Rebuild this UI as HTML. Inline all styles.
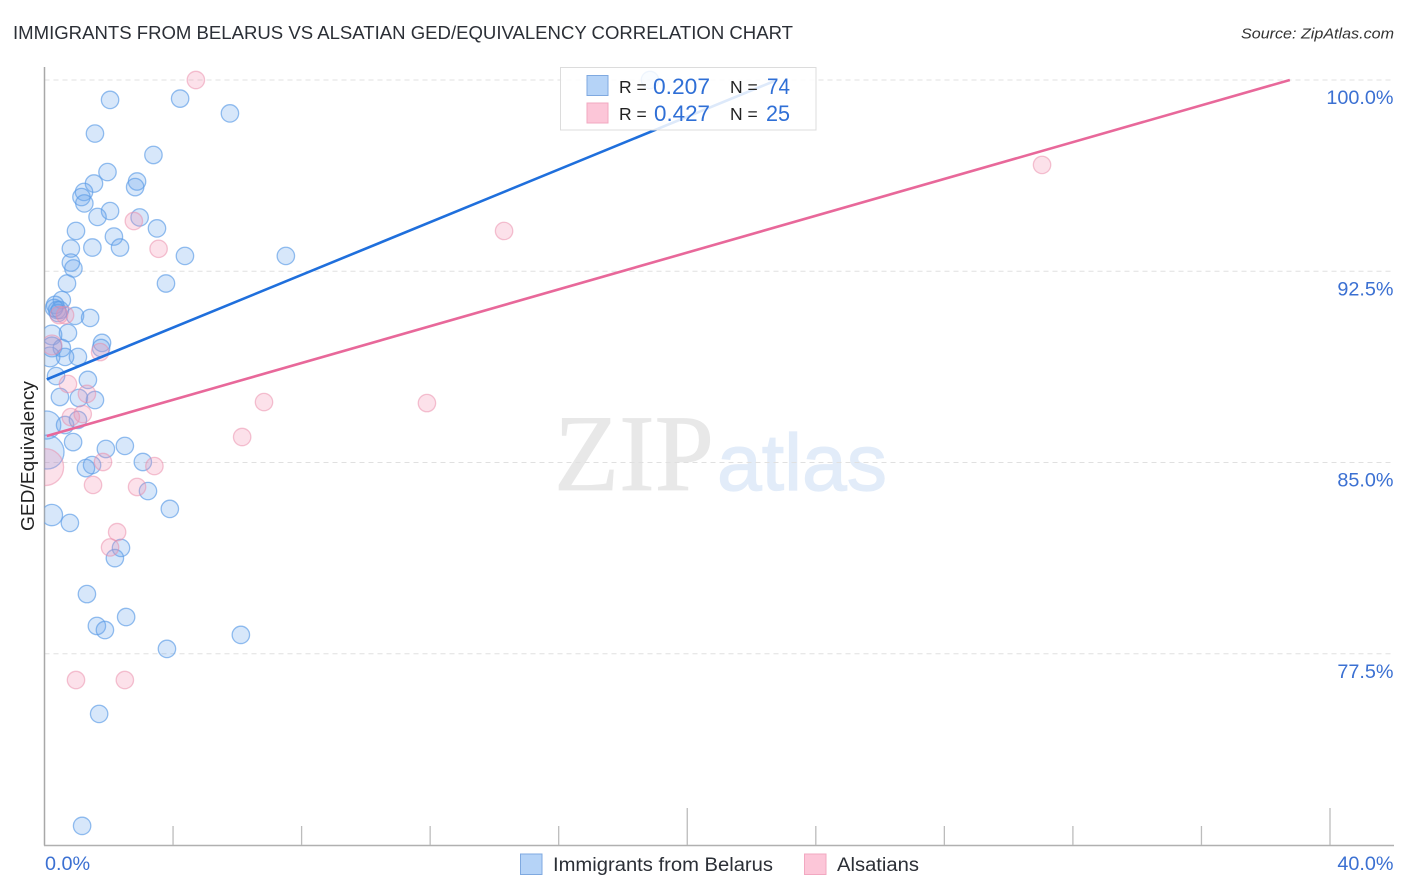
<!DOCTYPE html>
<html lang="en">
<head>
<meta charset="utf-8">
<title>Immigrants from Belarus vs Alsatian GED/Equivalency Correlation Chart</title>
<style>
html,body{margin:0;padding:0;background:#fff;width:1406px;height:892px;overflow:hidden}
svg{display:block}
text{font-family:"Liberation Sans",sans-serif}
</style>
</head>
<body>
<svg id="chart" xmlns="http://www.w3.org/2000/svg" width="1406" height="892" viewBox="0 0 1406 892">
  <defs><clipPath id="plot-clip"><rect x="44.5" y="60" width="1350" height="785"/></clipPath></defs>
  <text x="13" y="39" font-size="18.5" fill="#2b2f36" textLength="780" lengthAdjust="spacingAndGlyphs">IMMIGRANTS FROM BELARUS VS ALSATIAN GED/EQUIVALENCY CORRELATION CHART</text>
  <text x="1241" y="38.500" font-size="15" font-style="italic" fill="#333" textLength="153" lengthAdjust="spacingAndGlyphs">Source: ZipAtlas.com</text>
  <g>
    <text x="554" y="490" font-size="109" fill="#e8e8e8" stroke="#e8e8e8" stroke-width="0.8" style="font-family:'Liberation Serif',serif" textLength="160" lengthAdjust="spacingAndGlyphs">ZIP</text>
    <text x="717" y="490" font-size="80" fill="#e2ecf9" stroke="#e2ecf9" stroke-width="1.2" style="font-family:'Liberation Sans',sans-serif" textLength="170" lengthAdjust="spacingAndGlyphs">atlas</text>
  </g>
  <g id="grid"></g>
  <g id="axes"></g>
  <g id="points" clip-path="url(#plot-clip)"></g>
  <g id="lines" clip-path="url(#plot-clip)"></g>
  <text transform="translate(34 531) rotate(-90)" font-size="18" fill="#222" textLength="150" lengthAdjust="spacingAndGlyphs">GED/Equivalency</text>
  <g>
    <rect x="560.500" y="67.500" width="255.500" height="62.500" fill="#fff" fill-opacity="0.85" stroke="#dcdcdc" stroke-width="1"/>
    <rect x="587" y="75.500" width="21" height="20" fill="#b5d3f7" stroke="#7fa9e0"/>
    <rect x="587" y="103" width="21" height="20" fill="#fcc6d8" stroke="#f2a8c1"/>
    <text x="619" y="93" font-size="17.5" fill="#222">R =</text>
    <text x="653" y="94" font-size="22" fill="#2f6fd6" textLength="57" lengthAdjust="spacingAndGlyphs">0.207</text>
    <text x="730" y="93" font-size="17.5" fill="#222">N =</text>
    <text x="767" y="94" font-size="22" fill="#2f6fd6" textLength="23" lengthAdjust="spacingAndGlyphs">74</text>
    <text x="619" y="120" font-size="17.5" fill="#222">R =</text>
    <text x="654" y="121" font-size="22" fill="#2f6fd6" textLength="56" lengthAdjust="spacingAndGlyphs">0.427</text>
    <text x="730" y="120" font-size="17.5" fill="#222">N =</text>
    <text x="766" y="121" font-size="22" fill="#2f6fd6" textLength="24" lengthAdjust="spacingAndGlyphs">25</text>
  </g>
  <g>
    <rect x="520.500" y="854" width="21.500" height="20.500" fill="#b5d3f7" stroke="#7fa9e0"/>
    <text x="553" y="871" font-size="19" fill="#2b2f36" textLength="220" lengthAdjust="spacingAndGlyphs">Immigrants from Belarus</text>
    <rect x="804.500" y="854" width="21.500" height="20.500" fill="#fcc6d8" stroke="#f2a8c1"/>
    <text x="837" y="871" font-size="19" fill="#2b2f36" textLength="82" lengthAdjust="spacingAndGlyphs">Alsatians</text>
  </g>
</svg>
<script>
const yGridValues = [100, 92.5, 85, 77.5];
const yTickLabels = ["100.0%", "92.5%", "85.0%", "77.5%"];
const xTickValues = [4, 8, 12, 16, 20, 24, 28, 32, 36, 40];
const xEndLabels = ["0.0%", "40.0%"];
const xEndValues = [0, 40];

const belarusX = [2.04,4.22,5.77,18.84,1.57,3.39,1.96,1.54,2.88,2.82,1.23,1.15,1.24,2.04,1.65,2.96,0.98,3.50,2.16,0.82,1.49,2.35,4.37,7.51,0.82,0.90,0.70,3.78,
  0.54,0.33,0.39,0.42,0.95,1.42,0.73,0.23,0.23,0.54,1.04,0.64,0.17,1.79,1.76,0.30,0.48,
  0.36,1.35,0.48,1.07,1.57,
  0.07,0.64,1.04,0.89,1.91,2.50,0.08,1.48,1.29,3.06,3.22,3.90,0.23,0.79,2.38,2.19,1.32,
  2.54,1.63,1.88,6.11,3.81,1.70,1.17];
const belarusY = [99.22,99.27,98.69,100,97.90,97.06,96.39,95.94,96.02,95.80,95.61,95.41,95.16,94.86,94.63,94.61,94.08,94.18,93.86,93.39,93.43,93.43,93.10,93.10,92.84,92.61,92.02,92.02,
  91.37,91.18,90.98,90.86,90.75,90.67,90.08,90.00,89.53,89.49,89.14,89.14,89.14,89.69,89.49,91.06,90.98,
  88.39,88.24,87.57,87.53,87.45,
  86.47,86.47,86.67,85.80,85.53,85.65,85.41,84.90,84.78,85.02,83.88,83.18,82.94,82.63,81.65,81.25,79.84,
  78.94,78.59,78.43,78.24,77.69,75.14,70.75];
const belarusWeight = [1,1,1,1,1,1,1,1,1,1,1,1,1,1,1,1,1,1,1,1,1,1,1,1,1,1,1,1,
  1,1,1,1,1,1,1,1.3,1.3,1,1,1,1.3,1,1,1,1,
  1,1,1,1,1,
  2.6,1,1,1,1,1,3.8,1,1,1,1,1,1.5,1,1,1,1,
  1,1,1,1,1,1,1];

const alsatianX = [4.71,2.78,3.55,14.30,31.04,0.45,0.64,1.73,0.23,0.73,1.32,0.82,1.19,0.02,1.82,1.51,3.42,2.88,2.26,2.04,0.98,2.50,6.15,6.83,11.90];
const alsatianY = [100,94.47,93.38,94.08,96.67,90.78,90.78,89.33,89.61,88.08,87.69,86.78,86.90,84.82,85.02,84.12,84.86,84.04,82.27,81.67,76.47,76.47,86.00,87.37,87.33];
const alsatianWeight = [1,1,1,1,1,1,1,1,1.3,1,1,1,1,4.5,1,1,1,1,1,1,1,1,1,1,1];

const belarusTrendX = [0.07, 22.79];
const belarusTrendY = [88.26, 100];
const alsatianTrendX = [0.07, 38.75];
const alsatianTrendY = [86.04, 100];

const NS = "http://www.w3.org/2000/svg";
const xScale = v => 44.5 + (v - 0) * (1330 - 44.5) / 40;
const yScale = v => 80 + (100 - v) * 25.5;
const rScale = w => 8.7 * Math.sqrt(w);

function make(parent, tag, attrs, text) {
  const el = document.createElementNS(NS, tag);
  for (const k in attrs) el.setAttribute(k, attrs[k]);
  if (text !== undefined) el.textContent = text;
  parent.appendChild(el);
  return el;
}

const gridG = document.getElementById("grid");
const axesG = document.getElementById("axes");
const pointsG = document.getElementById("points");
const linesG = document.getElementById("lines");

yGridValues.forEach((v, i) => {
  const line = make(gridG, "line", {x1: 44.5, x2: 1394, y1: yScale(v), y2: yScale(v), stroke: "#e0e0e0", "stroke-width": 1, "stroke-dasharray": "5 4"});
  
  
  const label = make(axesG, "text", {x: 1393.5, y: yScale(v) + 24, "text-anchor": "end", "font-size": 19.8, fill: "#3b70d2"}, yTickLabels[i]);
  
  
});

const yAxisLine = make(axesG, "line", {x1: 44.5, x2: 44.5, y1: 67, y2: 845.5, stroke: "#a8a8a8", "stroke-width": 1.5});


const xAxisLine = make(axesG, "line", {x1: 44, x2: 1394, y1: 845.5, y2: 845.5, stroke: "#b0b0b0", "stroke-width": 1.5});



xTickValues.forEach(v => {
  const major = v % 20 === 0;
  const tick = make(axesG, "line", {x1: xScale(v), x2: xScale(v), y1: major ? 808 : 826, y2: 845, stroke: "#bcbcbc", "stroke-width": 1.3});
  
  
});

xEndValues.forEach((v, i) => {
  const label = make(axesG, "text", {x: i === 0 ? xScale(v) + 0.5 : 1393.5, y: 870, "text-anchor": i === 0 ? "start" : "end", "font-size": 19.8, fill: "#3b70d2"}, xEndLabels[i]);
  
  
});

belarusX.forEach((x, i) => {
  const c = make(pointsG, "circle", {cx: xScale(x), cy: yScale(belarusY[i]), r: rScale(belarusWeight[i]), fill: "#6aa5ee", "fill-opacity": 0.27, stroke: "#5b9be6", "stroke-opacity": 0.65, "stroke-width": 1.3});
  
  
});

alsatianX.forEach((x, i) => {
  const c = make(pointsG, "circle", {cx: xScale(x), cy: yScale(alsatianY[i]), r: rScale(alsatianWeight[i]), fill: "#f48fb1", "fill-opacity": 0.27, stroke: "#ea8aa8", "stroke-opacity": 0.5, "stroke-width": 1.3});
  
  
});

const belarusLine = make(linesG, "line", {x1: xScale(belarusTrendX[0]), y1: yScale(belarusTrendY[0]), x2: xScale(belarusTrendX[1]), y2: yScale(belarusTrendY[1]), stroke: "#1f6fdc", "stroke-width": 2.6});


const alsatianLine = make(linesG, "line", {x1: xScale(alsatianTrendX[0]), y1: yScale(alsatianTrendY[0]), x2: xScale(alsatianTrendX[1]), y2: yScale(alsatianTrendY[1]), stroke: "#e8689a", "stroke-width": 2.6});


</script>
</body>
</html>
